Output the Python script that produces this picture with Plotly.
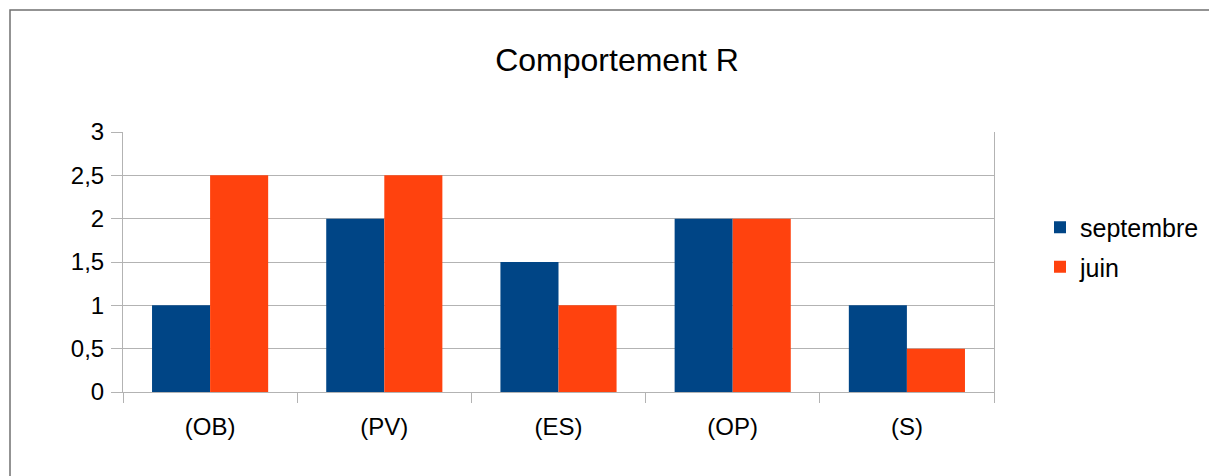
import plotly.graph_objects as go

# Chart data
categories = ["(OB)", "(PV)", "(ES)", "(OP)", "(S)"]
septembre = [1, 2, 1.5, 2, 1]
juin = [2.5, 2.5, 1, 2, 0.5]

W, H = 1209, 476
L, R, T, B = 123, 5, 132, 84
pw, ph = W - L - R, H - T - B
PLOT_RIGHT = 994  # right edge of the plotting area, in pixels

FONT = "Liberation Sans, Arial, sans-serif"
GRID = "#b3b3b3"

def px_x(px):
    return (px - L) / pw

def px_y(py):
    return (H - B - py) / ph

fig = go.Figure()
fig.add_trace(go.Bar(name="septembre", x=categories, y=septembre,
                     marker=dict(color="#004586", line=dict(width=0)),
                     legendgroup="a"))
fig.add_trace(go.Bar(name="juin", x=categories, y=juin,
                     marker=dict(color="#ff420e", line=dict(width=0)),
                     legendgroup="b"))

fig.update_layout(
    width=W, height=H,
    margin=dict(l=L, r=R, t=T, b=B),
    paper_bgcolor="white", plot_bgcolor="white",
    separators=", ",
    barmode="group", bargap=1/3, bargroupgap=0,
    font=dict(family=FONT, color="black", size=24),
    title=dict(text="Comportement R", font=dict(family=FONT, size=32, color="black"),
               x=617 / W, xref="container", xanchor="center",
               y=1 - 60 / H, yref="container", yanchor="middle"),
    legend=dict(x=px_x(1040), xanchor="left", y=px_y(204.5), yanchor="top",
                font=dict(family=FONT, size=25, color="black"),
                traceorder="grouped", tracegroupgap=4,
                bgcolor="rgba(0,0,0,0)"),
    showlegend=True,
)

fig.update_xaxes(
    type="category", domain=[0, px_x(PLOT_RIGHT)],
    showline=True, linecolor=GRID, linewidth=1,
    ticks="outside", tickson="boundaries", ticklen=10, tickcolor=GRID,
    showgrid=False, tickfont=dict(family=FONT, size=24, color="black"),
    ticklabelstandoff=13,
)
fig.update_yaxes(
    range=[0, 3], dtick=0.5, tick0=0,
    showline=True, mirror=True, linecolor=GRID, linewidth=1,
    showgrid=True, gridcolor=GRID, gridwidth=1, zeroline=False,
    ticks="outside", ticklen=11, tickcolor=GRID,
    tickfont=dict(family=FONT, size=24, color="black"),
    ticklabelstandoff=2,
)

# Outer frame of the chart
fig.add_shape(type="rect", xref="paper", yref="paper",
              x0=px_x(10), x1=px_x(1230), y0=px_y(10), y1=px_y(500),
              line=dict(color="#707070", width=1.5), layer="below")

fig.write_html("out.html")
